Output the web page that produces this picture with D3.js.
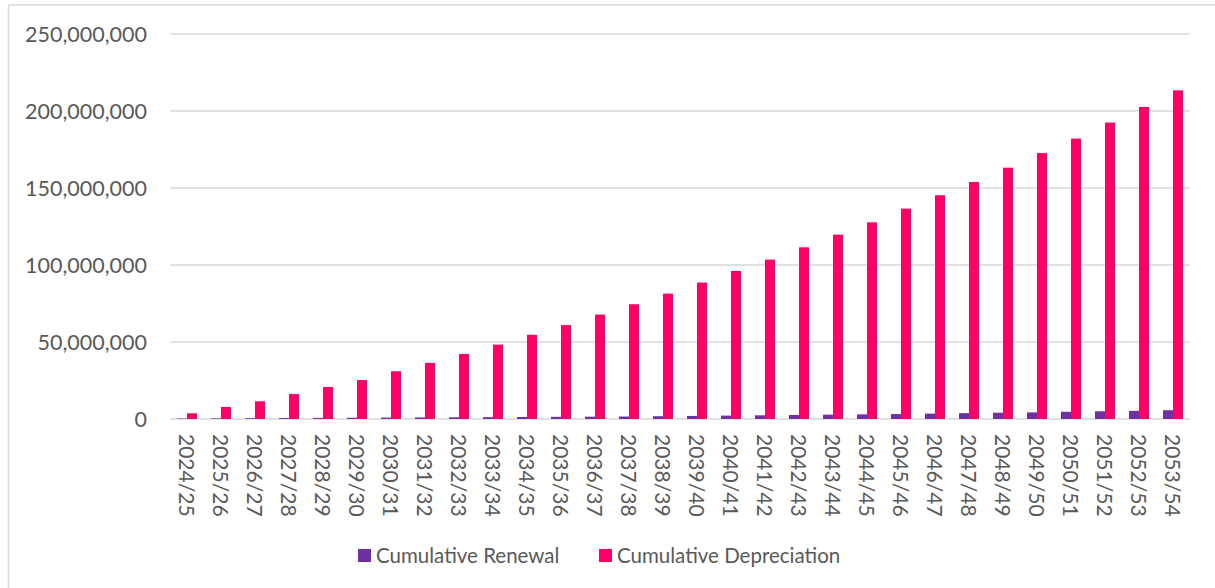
<!DOCTYPE html>
<meta charset="utf-8">
<style>
body { margin: 0; background: #fff; }
text { font-family: Lato, "Open Sans", sans-serif; fill: #595959; }
.grid line { stroke: #d9d9d9; stroke-width: 1.4px; }
</style>
<svg width="1215" height="588"></svg>
<script src="https://d3js.org/d3.v7.min.js"></script>
<script>

var years = ["2024/25","2025/26","2026/27","2027/28","2028/29","2029/30","2030/31","2031/32",
  "2032/33","2033/34","2034/35","2035/36","2036/37","2037/38","2038/39","2039/40","2040/41",
  "2041/42","2042/43","2043/44","2044/45","2045/46","2046/47","2047/48","2048/49","2049/50",
  "2050/51","2051/52","2052/53","2053/54"];

// values in millions
var renewal = [0.3,0.4,0.5,0.6,0.7,0.8,0.9,1.0,1.1,1.2,1.3,1.4,1.5,1.6,1.8,2.0,2.2,2.4,2.6,2.8,
  3.0,3.2,3.5,3.8,4.1,4.3,4.7,5.0,5.3,5.7];
var depreciation = [3.7,7.8,11.5,16.2,20.8,25.3,31.0,36.4,42.2,48.3,54.7,61.0,67.8,74.5,81.4,88.6,
  96.1,103.5,111.5,119.7,127.7,136.6,145.3,153.9,163.2,172.7,182.1,192.5,202.6,213.4];

var yTicks = [0, 50e6, 100e6, 150e6, 200e6, 250e6];
var seriesNames = ["Cumulative Renewal", "Cumulative Depreciation"];
var colors = ["#7030a0", "#ff0066"];

var svg = d3.select("svg");

// frame (top and left edges only are visible)
svg.append("line").attr("x1", 8.5).attr("x2", 1215).attr("y1", 5).attr("y2", 5)
  .attr("stroke", "#d9d9d9").attr("stroke-width", 1.5);
svg.append("line").attr("x1", 8.5).attr("x2", 8.5).attr("y1", 5).attr("y2", 588)
  .attr("stroke", "#d9d9d9").attr("stroke-width", 1.5);

var x = d3.scaleBand().domain(years).range([170, 1190]);
var x1 = d3.scaleBand().domain(seriesNames)
  .range([x.bandwidth() / 2 - 10, x.bandwidth() / 2 + 10]);
var y = d3.scaleLinear().domain([0, 250e6]).range([419, 34]);

var grid = svg.append("g").attr("class", "grid");
grid.selectAll("line").data(yTicks).enter().append("line")
  .attr("x1", 170).attr("x2", 1190)
  .attr("y1", function(d) { return y(d); })
  .attr("y2", function(d) { return y(d); });

svg.append("g").selectAll("text").data(yTicks).enter().append("text")
  .attr("x", 147)
  .attr("y", function(d) { return y(d); })
  .attr("dy", "0.36em")
  .attr("text-anchor", "end")
  .attr("font-size", 21.5)
  .text(function(d) { return d3.format(",")(d); });

var rows = years.map(function(yr, i) {
  return { year: yr, values: [renewal[i] * 1e6, depreciation[i] * 1e6] };
});

var groups = svg.append("g").selectAll("g").data(rows).enter().append("g")
  .attr("transform", function(d) { return "translate(" + x(d.year) + ",0)"; });

groups.selectAll("rect").data(function(d) {
    return d.values.map(function(v, k) { return { name: seriesNames[k], v: v, k: k }; });
  }).enter().append("rect")
  .attr("x", function(d) { return x1(d.name); })
  .attr("width", x1.bandwidth())
  .attr("y", function(d) { return y(d.v); })
  .attr("height", function(d) { return y(0) - y(d.v); })
  .attr("fill", function(d) { return colors[d.k]; });

// x labels, rotated clockwise
svg.append("g").selectAll("text").data(years).enter().append("text")
  .attr("transform", function(d) {
    return "translate(" + (x(d) + x.bandwidth() / 2) + ",434) rotate(90)";
  })
  .attr("dy", "0.36em")
  .attr("font-size", 21)
  .text(function(d) { return d; });

// legend
var legendX = [358, 599];
var legend = svg.append("g").selectAll("g").data(seriesNames).enter().append("g")
  .attr("transform", function(d, i) { return "translate(" + legendX[i] + ",549)"; });
legend.append("rect").attr("width", 13).attr("height", 13)
  .attr("fill", function(d, i) { return colors[i]; });
legend.append("text").attr("x", 18).attr("y", 6.5).attr("dy", "0.36em")
  .attr("font-size", 20.5)
  .text(function(d) { return d; });

</script>
